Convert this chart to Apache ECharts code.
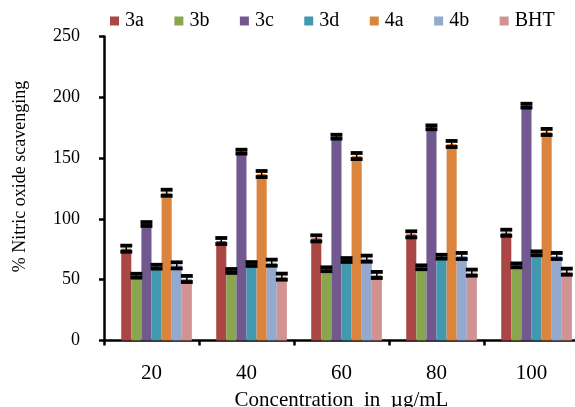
<!DOCTYPE html>
<html>
<head>
<meta charset="utf-8">
<script src="https://cdn.jsdelivr.net/npm/echarts@6/dist/echarts.min.js"></script>
<style>
html,body{margin:0;padding:0;background:#fff;}
#chart{width:575px;height:407px;}
</style>
</head>
<body>
<div id="chart"></div>
<script>
// ---- data ----
const categories = ['20', '40', '60', '80', '100'];
const seriesNames = ['3a', '3b', '3c', '3d', '4a', '4b', 'BHT'];
const v3a  = [75.5, 81.8, 84.0, 87.3, 88.6];
const v3b  = [53.3, 57.2, 58.6, 60.2, 61.8];
const v3c  = [95.8, 155.3, 167.6, 175.3, 193.1];
const v3d  = [60.7, 62.9, 66.2, 68.9, 71.7];
const v4a  = [121.5, 136.9, 151.7, 161.6, 171.5];
const v4b  = [61.8, 64.0, 67.3, 69.5, 69.5];
const vBHT = [50.6, 52.5, 53.9, 55.8, 56.6];
const e3a  = [2.5, 2.5, 2.5, 2.5, 2.5];
const e3b  = [1.6, 1.6, 1.6, 1.6, 1.6];
const e3c  = [1.6, 1.6, 1.6, 1.6, 1.6];
const e3d  = [1.6, 1.6, 1.6, 1.6, 1.6];
const e4a  = [2.5, 2.5, 2.5, 2.5, 2.5];
const e4b  = [2.5, 2.5, 2.5, 2.5, 2.5];
const eBHT = [2.5, 2.5, 2.5, 2.5, 2.5];
const yTicks = [0, 50, 100, 150, 200, 250];

const values = [v3a, v3b, v3c, v3d, v4a, v4b, vBHT];
const errors = [e3a, e3b, e3c, e3d, e4a, e4b, eBHT];
const colors = ['#AA4643', '#89A54E', '#71588F', '#4198AF', '#DB843D', '#93A9CF', '#D19392'];

const FONT = "'Liberation Serif', 'Times New Roman', serif";
const SLOTS = 8;      // one empty leading slot, as in the original chart
const OCC = 0.85;     // 1 - barCategoryGap

const series = [];
series.push({
  type: 'bar', name: '_empty', data: categories.map(() => null),
  barGap: '0%', barCategoryGap: '15%', silent: true
});
seriesNames.forEach((name, i) => {
  series.push({
    type: 'bar', name: name, data: values[i],
    barGap: '0%', barCategoryGap: '15%',
    itemStyle: { color: colors[i] }
  });
});
seriesNames.forEach((name, i) => {
  const slot = i + 1;
  series.push({
    type: 'custom', name: name + '_err', silent: true, clip: false, z: 5,
    data: categories.map((c, k) => [k, values[i][k], errors[i][k]]),
    encode: { x: 0, y: 1 },
    renderItem: function (params, api) {
      const k = api.value(0), v = api.value(1), e = api.value(2);
      const c = api.coord([k, v]);
      const band = api.size([1, 0])[0];
      const bw = band * OCC / SLOTS;
      const x = c[0] - band * OCC / 2 + bw * (slot + 0.5);
      const yHi = api.coord([k, v + e])[1];
      const yLo = api.coord([k, v - e])[1];
      const capW = bw * 1.18, th = 3.8;
      return {
        type: 'group',
        children: [
          { type: 'line', shape: { x1: x, y1: yHi, x2: x, y2: yLo }, style: { stroke: '#000', lineWidth: 1.5 } },
          { type: 'rect', shape: { x: x - capW / 2, y: yHi - th / 2, width: capW, height: th }, style: { fill: '#000' } },
          { type: 'rect', shape: { x: x - capW / 2, y: yLo - th / 2, width: capW, height: th }, style: { fill: '#000' } }
        ]
      };
    }
  });
});

const chart = echarts.init(document.getElementById('chart'), null, { renderer: 'canvas' });
chart.setOption({
  animation: false,
  backgroundColor: '#fff',
  textStyle: { fontFamily: FONT },
  legend: {
    data: seriesNames,
    left: 110, top: 11, width: 470, padding: 0,
    icon: 'rect', itemWidth: 9, itemHeight: 9, itemGap: 30.5,
    textStyle: { fontFamily: FONT, fontSize: 20, color: '#000', padding: [0, 0, 0, 1] }
  },
  grid: { left: 104, top: 36.5, width: 475, height: 304, containLabel: false, outerBoundsMode: 'none' },
  xAxis: {
    type: 'category', data: categories,
    name: 'Concentration  in  µg/mL', nameLocation: 'middle', nameGap: 49,
    nameTextStyle: { fontFamily: FONT, fontSize: 21, color: '#000' },
    axisLine: { lineStyle: { color: '#000', width: 2.5 } },
    axisTick: { show: true, length: 5, lineStyle: { color: '#000', width: 2.5 } },
    axisLabel: { fontFamily: FONT, fontSize: 21, color: '#000', margin: 22 },
    splitLine: { show: false }
  },
  yAxis: {
    type: 'value', min: yTicks[0], max: yTicks[yTicks.length - 1], interval: 50,
    name: '% Nitric oxide scavenging', nameLocation: 'middle', nameGap: 75,
    nameTextStyle: { fontFamily: FONT, fontSize: 18, color: '#000', padding: [0, 0, 0, 24] },
    axisLine: { show: true, lineStyle: { color: '#000', width: 2.5 } },
    axisTick: { show: true, length: 5, lineStyle: { color: '#000', width: 2.5 } },
    axisLabel: { fontFamily: FONT, fontSize: 18, color: '#000', margin: 24 },
    splitLine: { show: false }
  },
  series: series
});
</script>
</body>
</html>
